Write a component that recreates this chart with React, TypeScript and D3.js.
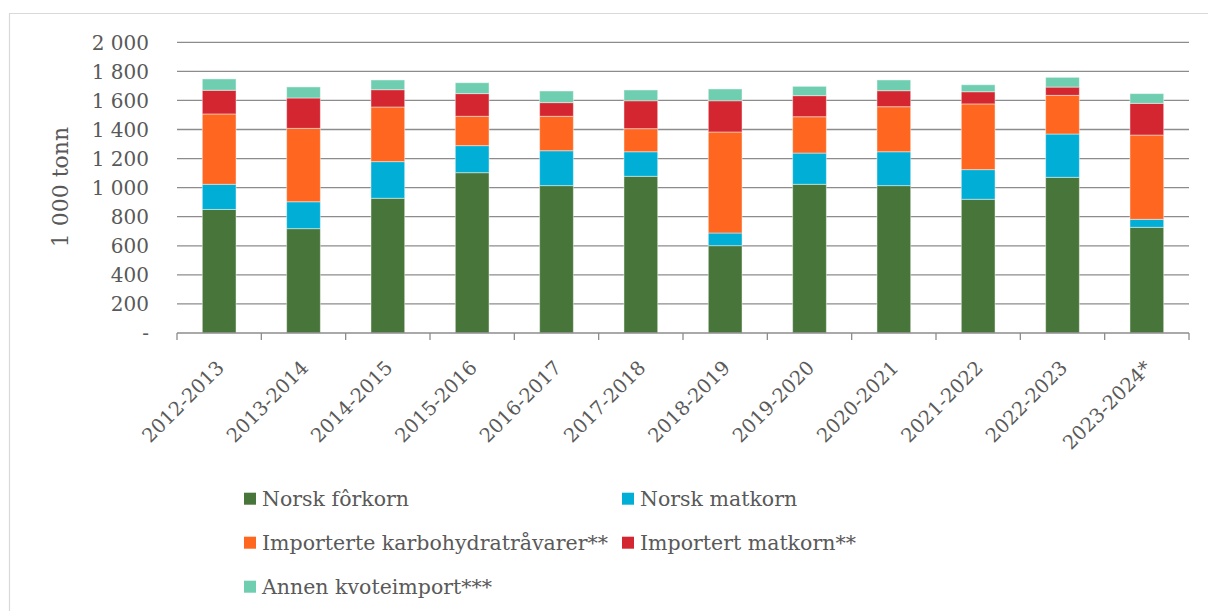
import React, { useEffect, useRef } from "react";
import * as d3 from "d3";

const seasons = [
  "2012-2013", "2013-2014", "2014-2015", "2015-2016", "2016-2017", "2017-2018",
  "2018-2019", "2019-2020", "2020-2021", "2021-2022", "2022-2023", "2023-2024*",
];

const seriesNames = [
  "Norsk fôrkorn",
  "Norsk matkorn",
  "Importerte karbohydratråvarer**",
  "Importert matkorn**",
  "Annen kvoteimport***",
];
const seriesColors = ["#48763a", "#00aed6", "#ff6720", "#d42630", "#6fceb0"];

// 1 000 tonn
const norskForkorn = [850, 718, 927, 1103, 1014, 1078, 601, 1023, 1014, 920, 1071, 727];
const norskMatkorn = [173, 185, 252, 186, 240, 169, 87, 215, 233, 204, 298, 55];
const importKarbo = [484, 505, 376, 202, 237, 159, 695, 250, 310, 452, 266, 580];
const importMatkorn = [163, 209, 119, 156, 94, 192, 215, 145, 110, 84, 57, 218];
const annenKvote = [78, 76, 67, 75, 80, 74, 81, 64, 74, 48, 67, 67];

const yTicks = [0, 200, 400, 600, 800, 1000, 1200, 1400, 1600, 1800, 2000];

const App: React.FC = () => {
  const svgRef = useRef<SVGSVGElement>(null);

  useEffect(() => {
    const svg = d3.select(svgRef.current);
    svg.selectAll("*").remove();

    const font = "'DejaVu Serif', Georgia, serif";
    const textColor = "#595959";
    const left = 177;
    const right = 1189;
    const top = 42.3;
    const bottom = 333;

    // frame
    svg.append("path")
      .attr("d", "M9.5,611 V13.5 H1208")
      .attr("fill", "none")
      .attr("stroke", "#d9d9d9")
      .attr("stroke-width", 1.2);

    const rows = seasons.map((s, i) => ({
      season: s,
      s0: norskForkorn[i],
      s1: norskMatkorn[i],
      s2: importKarbo[i],
      s3: importMatkorn[i],
      s4: annenKvote[i],
    }));

    const x = d3.scaleBand().domain(seasons).range([left, right]).paddingInner(0).paddingOuter(0);
    const y = d3.scaleLinear().domain([0, 2000]).range([bottom, top]);

    // gridlines
    svg.append("g")
      .selectAll("line")
      .data(yTicks.filter((t) => t > 0))
      .join("line")
      .attr("x1", left)
      .attr("x2", right)
      .attr("y1", (d) => y(d))
      .attr("y2", (d) => y(d))
      .attr("stroke", "#8c8c8c")
      .attr("stroke-width", 1.3);

    // y labels
    svg.append("g")
      .selectAll("text")
      .data(yTicks)
      .join("text")
      .attr("x", 149)
      .attr("y", (d) => y(d))
      .attr("dy", "0.36em")
      .attr("text-anchor", "end")
      .attr("font-family", font)
      .attr("font-size", 20)
      .attr("fill", textColor)
      .text((d) => (d === 0 ? "-" : d3.format(",")(d).replace(",", " ")));

    svg.append("text")
      .attr("transform", "translate(68,187) rotate(-90)")
      .attr("text-anchor", "middle")
      .attr("font-family", font)
      .attr("font-size", 22)
      .attr("fill", textColor)
      .text("1 000 tonn");

    // bars
    const keys = ["s0", "s1", "s2", "s3", "s4"];
    const stacked = d3.stack<any>().keys(keys)(rows);
    const bw = x.bandwidth() * 0.4;

    stacked.forEach((layer, k) => {
      svg.append("g")
        .selectAll("rect")
        .data(layer)
        .join("rect")
        .attr("x", (d: any) => (x(d.data.season) as number) + (x.bandwidth() - bw) / 2)
        .attr("width", bw)
        .attr("y", (d: any) => y(d[1]))
        .attr("height", (d: any) => y(d[0]) - y(d[1]))
        .attr("fill", seriesColors[k])
        .attr("stroke", "#ffffff")
        .attr("stroke-opacity", 0.45)
        .attr("stroke-width", 1);
    });

    // x axis
    const axis = svg.append("g");
    axis.append("line")
      .attr("x1", left)
      .attr("x2", right)
      .attr("y1", bottom)
      .attr("y2", bottom)
      .attr("stroke", "#8c8c8c")
      .attr("stroke-width", 1.3);
    const boundaries = seasons.map((s) => x(s) as number).concat([right]);
    axis.selectAll("line.tick")
      .data(boundaries)
      .join("line")
      .attr("class", "tick")
      .attr("x1", (d) => d)
      .attr("x2", (d) => d)
      .attr("y1", bottom)
      .attr("y2", bottom + 7)
      .attr("stroke", "#8c8c8c")
      .attr("stroke-width", 1.3);

    axis.selectAll("text")
      .data(seasons)
      .join("text")
      .attr("transform", (d) => {
        const cx = (x(d) as number) + x.bandwidth() / 2;
        return `translate(${cx + 6},${bottom + 36}) rotate(-45)`;
      })
      .attr("text-anchor", "end")
      .attr("font-family", font)
      .attr("font-size", 19.5)
      .attr("fill", textColor)
      .text((d) => d);

    // legend
    const legendPos = [
      [244, 498.7],
      [622, 498.7],
      [244, 542.7],
      [622, 542.7],
      [244, 586.7],
    ];
    const lg = svg.append("g");
    seriesNames.forEach((name, i) => {
      const [lx, ly] = legendPos[i];
      lg.append("rect")
        .attr("x", lx)
        .attr("y", ly - 6)
        .attr("width", 12)
        .attr("height", 12)
        .attr("fill", seriesColors[i]);
      lg.append("text")
        .attr("x", lx + 18)
        .attr("y", ly)
        .attr("dy", "0.36em")
        .attr("font-family", font)
        .attr("font-size", 20.5)
        .attr("fill", textColor)
        .text(name);
    });
  }, []);

  return (
    <svg
      ref={svgRef}
      width={1208}
      height={611}
      style={{ position: "absolute", left: 0, top: 0, background: "#fff" }}
    ></svg>
  );
};

export default App;
